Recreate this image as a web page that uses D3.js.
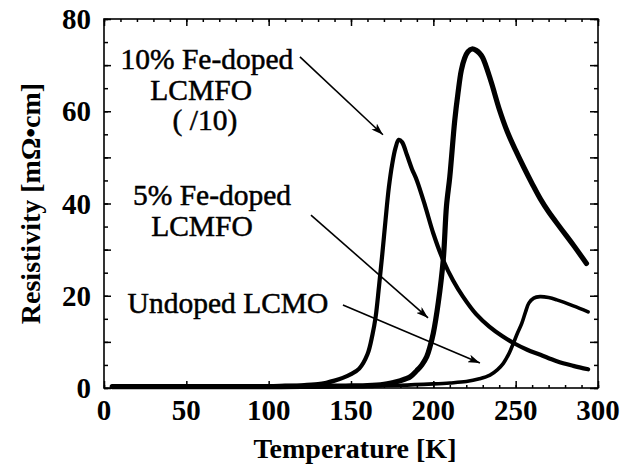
<!DOCTYPE html>
<html lang="en">

<head>
    <meta charset="UTF-8">
    <meta name="viewport" content="width=device-width, initial-scale=1.0">
    <script src="https://cdn.jsdelivr.net/npm/d3@7"></script>
    <title>Resistivity vs Temperature</title>
    <style>
        body {
            margin: 0;
            background: white;
        }
    </style>
</head>

<body>
    <script>
        /*-------------------------------------------------------*/
        /*------------------------- data ------------------------*/
        /*-------------------------------------------------------*/
        // 10% Fe-doped LCMFO (divided by 10)
        const fe10_T = [5, 20, 40, 60, 80, 100, 110, 120, 130, 135, 140, 145, 150, 155, 160, 163, 165, 167, 169, 171, 173, 175, 177, 179, 181, 184, 187, 190, 195, 200, 206, 212, 218, 226, 234, 242, 249, 257, 265, 275, 285, 294]
        const fe10_R = [0.3, 0.3, 0.3, 0.3, 0.35, 0.4, 0.5, 0.6, 0.85, 1.15, 1.6, 2.2, 3.0, 4.2, 7.3, 11.5, 15.5, 22, 29, 36.5, 43.5, 48.5, 52, 53.8, 53.3, 50.5, 47.5, 45, 39.5, 33.5, 27.7, 23.3, 19.8, 16, 13.3, 11.2, 9.7, 8.3, 7.2, 5.8, 4.8, 4.05]

        // 5% Fe-doped LCMFO
        const fe5_T = [5, 20, 40, 60, 80, 100, 120, 140, 150, 160, 170, 175, 180, 186, 190, 193, 196, 198, 200, 203, 206, 208, 210, 213, 215, 217, 219, 221, 223.5, 226, 228, 230, 235, 240, 245, 250, 255, 260, 265, 270, 277, 285, 293]
        const fe5_R = [0.3, 0.3, 0.3, 0.3, 0.3, 0.3, 0.35, 0.4, 0.45, 0.5, 0.8, 1.15, 1.6, 2.45, 3.8, 5, 6.8, 9, 11.9, 18.5, 27.7, 39.5, 45.8, 58, 64, 68.9, 71.5, 72.9, 73.5, 73.2, 72.6, 71.6, 66.5, 60.5, 55.5, 51.5, 47.8, 44.3, 41, 38.2, 34.8, 31, 27]

        // undoped LCMO
        const lcmo_T = [5, 20, 40, 60, 80, 100, 120, 150, 180, 200, 210, 220, 228, 234.4, 239, 242.5, 246, 248.6, 251, 253.7, 256, 258, 261, 264.8, 270, 275, 285, 294]
        const lcmo_R = [0.25, 0.25, 0.25, 0.25, 0.3, 0.3, 0.35, 0.4, 0.6, 0.9, 1.1, 1.4, 2, 2.8, 4, 5.35, 7.5, 9.7, 11.8, 14, 16.5, 18.4, 19.5, 19.8, 19.6, 19.1, 17.8, 16.5]

        // tick labels
        const xTicks = [0, 50, 100, 150, 200, 250, 300]
        const yTicks = [0, 20, 40, 60, 80]

        // annotation text lines: [T, rho, text]
        const noteLines = [
            [62.5, 69.2, "10% Fe-doped"],
            [59, 62.4, "LCMFO"],
            [61.3, 55.9, "( /10)"],
            [65.6, 39.7, "5% Fe-doped"],
            [59.5, 33, "LCMFO"],
            [75.3, 16.3, "Undoped LCMO"]
        ]
        // arrows: [T0, rho0, T1, rho1]
        const arrows = [
            [119, 71.8, 169.4, 54.9],
            [125.7, 37.5, 196.8, 15.2],
            [145.1, 18, 228.3, 5.4]
        ]

        /*-------------------------------------------------------*/
        /*----------------------- layout ------------------------*/
        /*-------------------------------------------------------*/
        const width = 636, height = 469
        const plot = { left: 104, right: 598, top: 19, bottom: 388 }
        const serif = "'Liberation Serif', 'DejaVu Serif', Tinos, 'Times New Roman', serif"

        const x = d3.scaleLinear().domain([0, 300]).range([plot.left, plot.right])
        const y = d3.scaleLinear().domain([0, 80]).range([plot.bottom, plot.top])

        const svg = d3.select("body").append("svg")
            .attr("width", width)
            .attr("height", height)
            .style("font-family", serif)

        svg.append("defs").append("marker")
            .attr("id", "head")
            .attr("viewBox", "0 0 12 8")
            .attr("refX", 12)
            .attr("refY", 4)
            .attr("markerWidth", 12)
            .attr("markerHeight", 8)
            .attr("markerUnits", "userSpaceOnUse")
            .attr("orient", "auto")
            .append("path")
            .attr("d", "M0,0 L12,4 L0,8 L3,4 Z")
            .attr("fill", "black")

        /*-------------------------------------------------------*/
        /*------------------------ axes -------------------------*/
        /*-------------------------------------------------------*/
        const axisG = svg.append("g")

        function drawAxis(axis, tx, ty) {
            const g = axisG.append("g")
                .attr("transform", `translate(${tx},${ty})`)
                .call(axis)
            g.select(".domain").remove()
            g.selectAll("line").attr("stroke", "black").attr("stroke-width", 1.5)
            g.selectAll("text").remove()
        }

        // inward ticks on all four sides
        drawAxis(d3.axisBottom(x).tickValues(d3.range(0, 301, 10)).tickSize(-3), 0, plot.bottom)
        drawAxis(d3.axisBottom(x).tickValues(xTicks).tickSize(-7), 0, plot.bottom)
        drawAxis(d3.axisTop(x).tickValues(d3.range(0, 301, 10)).tickSize(-3), 0, plot.top)
        drawAxis(d3.axisTop(x).tickValues(xTicks).tickSize(-7), 0, plot.top)
        drawAxis(d3.axisLeft(y).tickValues(d3.range(0, 81, 5)).tickSize(-4), plot.left, 0)
        drawAxis(d3.axisLeft(y).tickValues(d3.range(0, 81, 10)).tickSize(-7), plot.left, 0)
        drawAxis(d3.axisRight(y).tickValues(d3.range(0, 81, 5)).tickSize(-4), plot.right, 0)
        drawAxis(d3.axisRight(y).tickValues(d3.range(0, 81, 10)).tickSize(-8), plot.right, 0)

        svg.append("rect")
            .attr("x", plot.left)
            .attr("y", plot.top)
            .attr("width", plot.right - plot.left)
            .attr("height", plot.bottom - plot.top)
            .attr("fill", "none")
            .attr("stroke", "black")
            .attr("stroke-width", 1.6)

        svg.selectAll(".xlab")
            .data(xTicks)
            .enter()
            .append("text")
            .attr("font-family", serif)
            .attr("font-size", 29)
            .attr("font-weight", "bold")
            .attr("x", d => x(d))
            .attr("y", 420)
            .attr("text-anchor", "middle")
            .text(d => d)

        svg.selectAll(".ylab")
            .data(yTicks)
            .enter()
            .append("text")
            .attr("font-family", serif)
            .attr("font-size", 29)
            .attr("font-weight", "bold")
            .attr("x", 91)
            .attr("y", d => y(d) + 10)
            .attr("text-anchor", "end")
            .text(d => d)

        svg.append("text")
            .attr("font-family", serif)
            .attr("font-size", 28)
            .attr("font-weight", "bold")
            .attr("x", (plot.left + plot.right) / 2 + 4)
            .attr("y", 458)
            .attr("text-anchor", "middle")
            .text("Temperature [K]")

        svg.append("text")
            .attr("font-family", serif)
            .attr("font-size", 28)
            .attr("font-weight", "bold")
            .attr("transform", `translate(40,${(plot.top + plot.bottom) / 2}) rotate(-90)`)
            .attr("text-anchor", "middle")
            .text("Resistivity [mΩ•cm]")

        /*-------------------------------------------------------*/
        /*----------------------- curves ------------------------*/
        /*-------------------------------------------------------*/
        const line = d3.line()
            .x(d => x(d[0]))
            .y(d => y(d[1]))
            .curve(d3.curveCatmullRom.alpha(0.5))

        const series = [
            { T: lcmo_T, R: lcmo_R, w: 3.6 },
            { T: fe10_T, R: fe10_R, w: 4.2 },
            { T: fe5_T, R: fe5_R, w: 5.2 }
        ]

        svg.selectAll(".curve")
            .data(series)
            .enter()
            .append("path")
            .attr("d", s => line(s.T.map((t, i) => [t, s.R[i]])))
            .attr("fill", "none")
            .attr("stroke", "black")
            .attr("stroke-width", s => s.w)
            .attr("stroke-linejoin", "round")
            .attr("stroke-linecap", "round")

        /*-------------------------------------------------------*/
        /*--------------------- annotations ---------------------*/
        /*-------------------------------------------------------*/
        svg.selectAll(".note")
            .data(noteLines)
            .enter()
            .append("text")
            .attr("font-family", serif)
            .attr("font-size", 29.5)
            .attr("stroke", "black")
            .attr("stroke-width", 0.5)
            .attr("x", d => x(d[0]))
            .attr("y", d => y(d[1]))
            .attr("text-anchor", "middle")
            .text(d => d[2])

        svg.selectAll(".arrow")
            .data(arrows)
            .enter()
            .append("line")
            .attr("x1", d => x(d[0]))
            .attr("y1", d => y(d[1]))
            .attr("x2", d => x(d[2]))
            .attr("y2", d => y(d[3]))
            .attr("stroke", "black")
            .attr("stroke-width", 1.6)
            .attr("marker-end", "url(#head)")
    </script>
</body>

</html>
